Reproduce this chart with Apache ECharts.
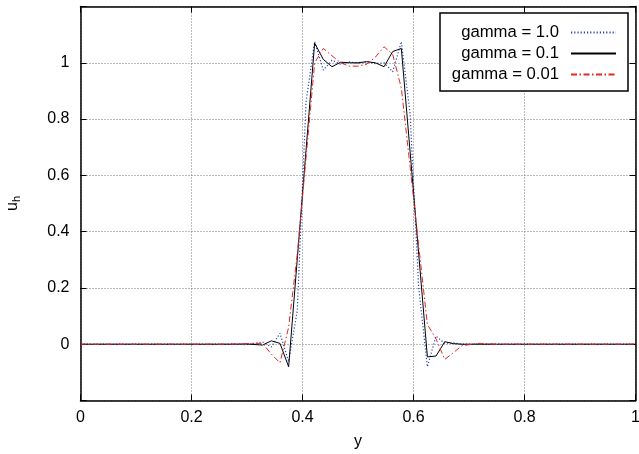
<!DOCTYPE html>
<html>
<head>
<meta charset="utf-8">
<script src="https://cdn.jsdelivr.net/npm/echarts@6/dist/echarts.min.js"></script>
<style>html,body{margin:0;padding:0;background:#fff;}#c{width:639px;height:454px;}</style>
</head>
<body>
<div id="c"></div>
<script>
var xGrid = [0, 0.25, 0.2813, 0.2969, 0.3125, 0.3281, 0.3438, 0.3594, 0.375, 0.3906, 0.4063, 0.4219, 0.4375, 0.4531, 0.4688, 0.4844, 0.5, 0.5156, 0.5313, 0.5469, 0.5625, 0.5781, 0.5938, 0.6094, 0.625, 0.6406, 0.6563, 0.6719, 0.6875, 0.7188, 0.75, 1];
var yGamma1 = [0, 0, 0.001, -0.002, 0.003, 0.008, -0.01, 0.039, -0.062, 0.12, 0.86, 1.075, 0.974, 1.009, 0.995, 1.003, 0.998, 1.003, 0.997, 1.0, 0.968, 1.075, 0.82, 0.2, -0.08, 0.029, 0.003, 0.005, 0.0, 0.001, 0, 0];
var yGamma01 = [0, 0, 0, 0.001, -0.001, -0.003, 0.012, 0.003, -0.08, 0.303, 0.687, 1.07, 1.012, 0.986, 1.002, 1.0, 1.0, 1.004, 1.0, 0.986, 1.04, 1.051, 0.686, 0.32, -0.045, -0.042, 0.009, 0.002, 0, 0, 0, 0];
var yGamma001 = [0, 0, 0.001, 0.002, 0.003, 0.003, -0.035, -0.066, 0.06, 0.32, 0.66, 1.0, 1.051, 1.025, 1.0, 0.988, 0.988, 0.995, 1.02, 1.057, 1.03, 0.91, 0.632, 0.35, 0.07, 0.019, -0.054, -0.03, -0.005, 0.003, 0, 0];
var seriesNames = ['gamma = 1.0', 'gamma = 0.1', 'gamma = 0.01'];
var xTicks = [0, 0.2, 0.4, 0.6, 0.8, 1];
var yTicks = [0, 0.2, 0.4, 0.6, 0.8, 1];

function pairs(xs, ys) { return xs.map(function (x, i) { return [x, ys[i]]; }); }
function fmt(v) { return String(Math.round(v * 10) / 10); }

var FONT = 'Liberation Sans, Arial, Helvetica, sans-serif';
var chart = echarts.init(document.getElementById('c'));
var gridLine = { show: true, lineStyle: { color: '#777', width: 1, type: [1, 2] } };
var frame = { show: true, onZero: false, lineStyle: { color: '#000', width: 1.5 } };
var tick = { show: true, inside: true, length: 6, lineStyle: { color: '#000', width: 1 } };

chart.setOption({
  animation: false,
  backgroundColor: '#fff',
  grid: { left: 80.5, right: 3.5, top: 6.5, bottom: 53.5, containLabel: false, outerBoundsMode: 'none' },
  xAxis: [{
    type: 'value', min: 0, max: 1, interval: 0.2, position: 'bottom',
    name: 'y', nameLocation: 'middle', nameGap: 33,
    nameTextStyle: { fontFamily: FONT, fontSize: 16, color: '#000' },
    axisLine: frame, axisTick: tick, splitLine: gridLine,
    axisLabel: { margin: 9, fontFamily: FONT, fontSize: 16, color: '#000',
      formatter: function (v) { return xTicks.indexOf(Math.round(v * 10) / 10) >= 0 ? fmt(v) : ''; } }
  }, {
    type: 'value', min: 0, max: 1, interval: 0.2, position: 'top',
    axisLine: frame, axisTick: tick, splitLine: { show: false }, axisLabel: { show: false }
  }],
  yAxis: [{
    type: 'value', min: -0.2, max: 1.2, interval: 0.2, position: 'left',
    name: '{u|u}{h|h}', nameLocation: 'middle', nameGap: 58, nameRotate: 90,
    nameTextStyle: { fontFamily: FONT, color: '#000',
      rich: { u: { fontFamily: FONT, fontSize: 16, color: '#000', verticalAlign: 'top', lineHeight: 18 },
              h: { fontFamily: FONT, fontSize: 11, color: '#000', verticalAlign: 'bottom', lineHeight: 18 } } },
    axisLine: frame, axisTick: tick, splitLine: gridLine,
    axisLabel: { margin: 11, fontFamily: FONT, fontSize: 16, color: '#000',
      formatter: function (v) { var r = Math.round(v * 10) / 10; return yTicks.indexOf(r) >= 0 ? fmt(v) : ''; } }
  }, {
    type: 'value', min: -0.2, max: 1.2, interval: 0.2, position: 'right',
    axisLine: frame, axisTick: tick, splitLine: { show: false }, axisLabel: { show: false }
  }],
  legend: {
    orient: 'vertical', left: 440, top: 13, align: 'right',
    padding: [11, 11, 8, 9], itemGap: 4, itemWidth: 45, itemHeight: 14,
    backgroundColor: '#fff', borderColor: '#000', borderWidth: 1.5, borderRadius: 0,
    data: seriesNames,
    itemStyle: { color: 'transparent', borderWidth: 0 },
    formatter: function (n) { return '{t|' + n + '}'; },
    textStyle: { fontFamily: FONT, fontSize: 16.7, color: '#000',
      rich: { t: { fontFamily: FONT, fontSize: 16.7, color: '#000', width: 110, align: 'right', lineHeight: 16, padding: [0, 7, 0, 0] } } }
  },
  series: [{
    name: seriesNames[0], type: 'line', data: pairs(xGrid, yGamma1), symbol: 'none',
    lineStyle: { color: '#2a45c0', width: 1.2, type: [1.2, 2] }, itemStyle: { color: '#2a45c0' }
  }, {
    name: seriesNames[1], type: 'line', data: pairs(xGrid, yGamma01), symbol: 'none',
    lineStyle: { color: '#000', width: 1, type: 'solid' }, itemStyle: { color: '#000' }
  }, {
    name: seriesNames[2], type: 'line', data: pairs(xGrid, yGamma001), symbol: 'none',
    lineStyle: { color: '#e02828', width: 1, type: [6, 2.5, 1.5, 2.5] }, itemStyle: { color: '#e02828' }
  }]
});
</script>
</body>
</html>
